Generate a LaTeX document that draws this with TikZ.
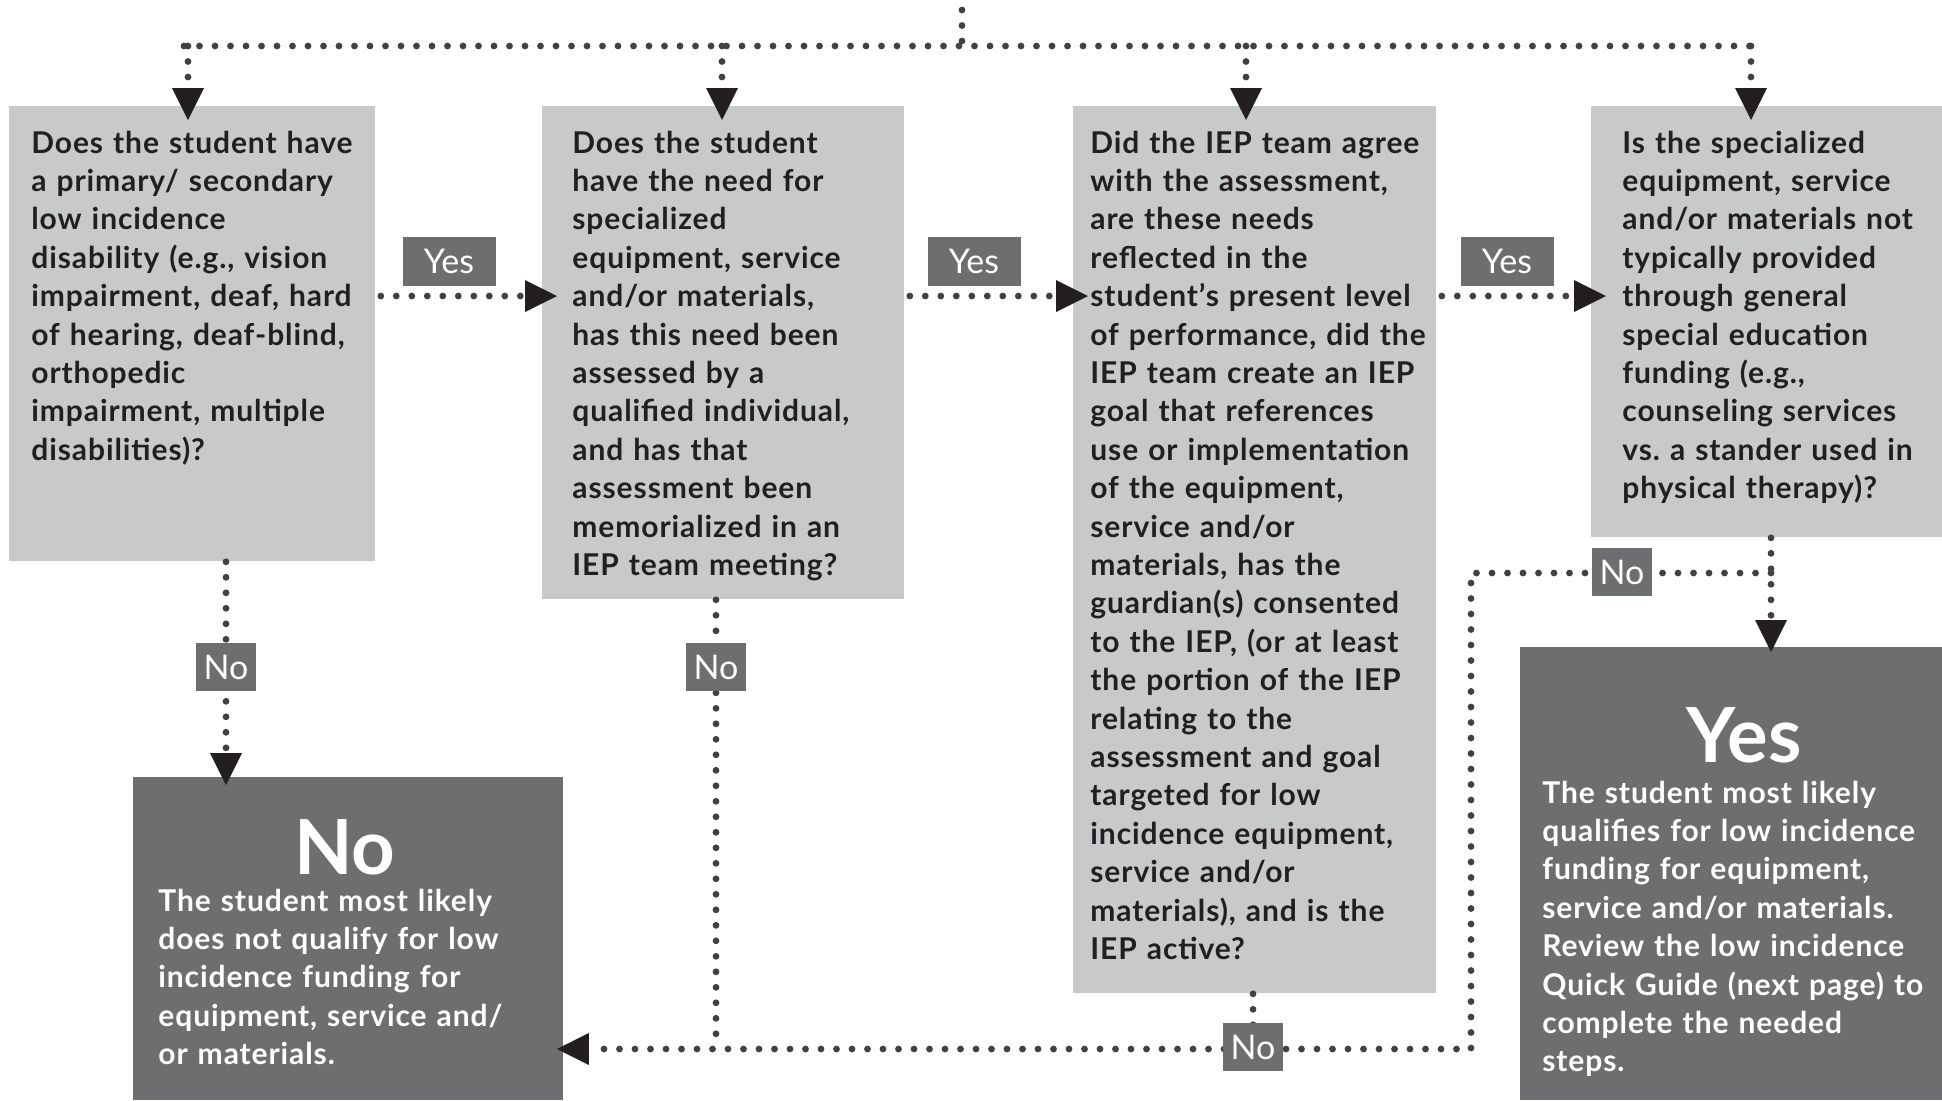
\documentclass[tikz,border=0pt]{standalone}
\usepackage{fontspec}
\setmainfont{Lato}
\frenchspacing
\usetikzlibrary{arrows.meta}
\pgfdeclarelayer{front}
\pgfsetlayers{main,front}

\definecolor{boxgray}{HTML}{C8C9CB}
\definecolor{resgray}{HTML}{6D6E70}
\definecolor{dotgray}{HTML}{414042}
\definecolor{inkblack}{HTML}{231F20}

\tikzset{
  qbox/.style={fill=boxgray, draw=none, anchor=north west, inner sep=0pt},
  rbox/.style={fill=resgray, draw=none, anchor=north west, inner sep=0pt},
  qtext/.style={anchor=base west, text width=230pt, align=left, inner sep=0pt, text=inkblack,
    font=\fontsize{15pt}{19.2pt}\selectfont\bfseries\addfontfeature{LetterSpace=3}},
  rtext/.style={qtext, text=white},
  bignum/.style={anchor=base, inner sep=0pt, text=white, font=\fontsize{38pt}{40pt}\selectfont\bfseries},
  flag/.style={fill=resgray, text=white, inner sep=0pt, font=\fontsize{17pt}{20pt}\selectfont},
  yesflag/.style={flag, minimum width=46.5pt, minimum height=24.5pt},
  noflag/.style={flag, minimum width=30pt, minimum height=24pt},
  dots/.style={draw=dotgray, line width=3.4pt, line cap=round, dash pattern=on 0pt off 7.75pt},
  dotarrow/.style={dots, -{Triangle[length=16pt, width=16pt, line width=0pt, color=inkblack]}}
}

\begin{document}
\begin{tikzpicture}[x=0.5pt, y=-0.5pt]
  \useasboundingbox[fill=white] (0,0) rectangle (1942,1100);

  % question boxes
  \node[qbox, minimum width=183pt, minimum height=227.5pt] (q1) at (9,106) {};
  \node[qbox, minimum width=181pt, minimum height=246.5pt] (q2) at (542,106) {};
  \node[qbox, minimum width=181.5pt, minimum height=443.5pt] (q3) at (1073,106) {};
  \node[qbox, minimum width=175.5pt, minimum height=215.5pt] (q4) at (1591,106) {};

  % result boxes
  \node[rbox, minimum width=215pt, minimum height=161.5pt] (res0) at (133,777) {};
  \node[rbox, minimum width=211pt, minimum height=226.5pt] (res1) at (1520,647) {};

  % texts of the questions
  \node[qtext] (t1) at (31,153) {Does the student have\\ a primary/ secondary\\ low incidence\\ disability (e.g., vision\\ impairment, deaf, hard\\ of hearing, deaf-blind,\\ orthopedic\\ impairment, multiple\\ disabilities)?};
  \node[qtext] (t2) at (572,153) {Does the student\\ have the need for\\ specialized\\ equipment, service\\ and/or materials,\\ has this need been\\ assessed by a\\ qualified individual,\\ and has that\\ assessment been\\ memorialized in an\\ IEP team meeting?};
  \node[qtext] (t3) at (1090,153) {Did the IEP team agree\\ with the assessment,\\ are these needs\\ reflected in the\\ student’s present level\\ of performance, did the\\ IEP team create an IEP\\ goal that references\\ use or implementation\\ of the equipment,\\ service and/or\\ materials, has the\\ guardian(s) consented\\ to the IEP, (or at least\\ the portion of the IEP\\ relating to the\\ assessment and goal\\ targeted for low\\ incidence equipment,\\ service and/or\\ materials), and is the\\ IEP active?};
  \node[qtext] (t4) at (1622,153) {Is the specialized\\ equipment, service\\ and/or materials not\\ typically provided\\ through general\\ special education\\ funding (e.g.,\\ counseling services\\ vs. a stander used in\\ physical therapy)?};

  % texts of the results
  \node[bignum] (nohead) at (345,874) {No};
  \node[rtext] (notext) at (158,911) {The student most likely\\ does not qualify for low\\ incidence funding for\\ equipment, service and/\\ or materials.};
  \node[bignum] (yeshead) at (1744,762) {Yes};
  \node[rtext] (yestext) at (1542,803) {The student most likely\\ qualifies for low incidence\\ funding for equipment,\\ service and/or materials.\\ Review the low incidence\\ Quick Guide (next page) to\\ complete the needed\\ steps.};

  % helper points
  \coordinate (src) at (962,10);
  \coordinate (barL) at (184,46);
  \coordinate (barR) at (1751,46);
  \coordinate (d1) at (188,46);
  \coordinate (d2) at (722,46);
  \coordinate (d3) at (1246,46);
  \coordinate (d4) at (1751,46);
  \coordinate (row) at (0,296);
  \coordinate (v4) at (1771,573);
  \coordinate (bl) at (1471,1049);

  % flags (kept above the dotted lines)
  \begin{pgfonlayer}{front}
    \node[yesflag] (yes1) at (449,261) {Yes};
    \node[yesflag] (yes2) at (974,261) {Yes};
    \node[yesflag] (yes3) at (1507,261) {Yes};
    \node[noflag] (no1) at (226,667) {No};
    \node[noflag] (no2) at (716,667) {No};
    \node[noflag] (no3) at (1253,1047) {No};
    \node[noflag] (no4) at (1622,572) {No};
  \end{pgfonlayer}

  % top bar and drops
  \draw[dots] (src) -- (src |- barL);
  \draw[dots] (barL) -- (barR);
  \foreach \i in {1,...,4}
    \draw[dotarrow, shorten >=-7pt] (d\i) -- (d\i |- q\i.north);

  % yes arrows
  \foreach \a/\b in {q1/q2, q2/q3, q3/q4}
    \draw[dotarrow, shorten <=2.5pt, shorten >=-7.5pt] (\a.east |- row) -- (\b.west |- row);

  % no arrows
  \draw[dotarrow, shorten >=-4pt] (q1.south -| no1) -- (res0.north -| no1);
  \draw[dots] (q2.south -| no2) -- (no2 |- bl);
  \draw[dots] (q3.south -| no3) -- (no3 |- bl);
  \draw[dotarrow, shorten >=-2.5pt] (q4.south -| v4) -- (res1.north -| v4);
  \draw[dotarrow, shorten >=-3.5pt] (v4) -| (bl) -- (res0.east |- bl);
\end{tikzpicture}
\end{document}
